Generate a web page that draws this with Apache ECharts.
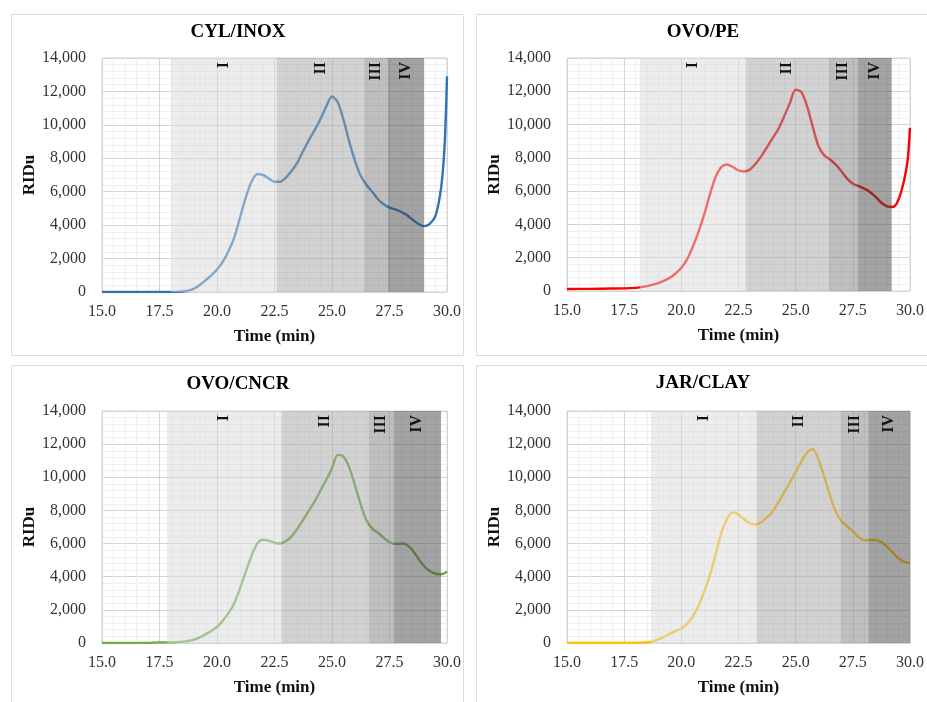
<!DOCTYPE html>
<html>
<head>
<meta charset="utf-8">
<script src="https://cdn.jsdelivr.net/npm/echarts@6/dist/echarts.min.js"></script>
<style>html,body{margin:0;padding:0;background:#fff;}#c{width:927px;height:702px;}</style>
</head>
<body>
<div id="c"></div>
<script>
// ---- data ----
const titles = ['CYL/INOX', 'OVO/PE', 'OVO/CNCR', 'JAR/CLAY'];
const xTicks = [15, 30, 2.5];          // min, max, step
const yTicks = [0, 14000, 2000];       // min, max, step
const regionLabels = ['I', 'II', 'III', 'IV'];

// sampling times (min), shared by all four traces
const timeMin = [15, 16, 17, 17.5, 18, 18.25, 18.5, 18.75, 19, 19.25, 19.5, 19.75, 20, 20.25, 20.5, 20.75,
  21, 21.25, 21.5, 21.75, 22, 22.25, 22.5, 22.75, 23, 23.25, 23.5, 23.75, 24, 24.25, 24.5, 24.75,
  25, 25.25, 25.5, 25.75, 26, 26.25, 26.5, 26.75, 27, 27.25, 27.5, 27.75, 28, 28.25, 28.5, 28.75,
  29, 29.25, 29.5, 29.75, 29.9, 30];

const valCyl = [0, 0, 0, 0, 0, 5, 30, 80, 200, 420, 700, 1000, 1350, 1800, 2450, 3250,
  4450, 5650, 6600, 7050, 7000, 6800, 6600, 6600, 6850, 7250, 7750, 8450, 9100, 9700, 10350, 11100,
  11700, 11350, 10300, 9000, 7850, 6950, 6400, 6000, 5550, 5250, 5050, 4950, 4800, 4600, 4330, 4080,
  3940, 4080, 4550, 6300, 8900, 12900];

const valPe = [120, 130, 150, 160, 190, 230, 290, 380, 480, 620, 800, 1050, 1400, 1900, 2650, 3550,
  4600, 5800, 6850, 7450, 7600, 7450, 7250, 7180, 7300, 7650, 8100, 8650, 9200, 9750, 10500, 11300,
  12100, 11950, 11100, 9850, 8700, 8150, 7900, 7600, 7200, 6750, 6450, 6300, 6150, 5950, 5650, 5300,
  5080, 5050, 5500, 6700, 7900, 9800];

const valCncr = [0, 0, 10, 40, 40, 50, 80, 120, 200, 340, 520, 730, 970, 1350, 1800, 2400,
  3300, 4300, 5250, 6000, 6230, 6180, 6050, 6000, 6150, 6450, 6900, 7450, 8000, 8550, 9200, 9850,
  10550, 11350, 11250, 10600, 9500, 8350, 7400, 6900, 6650, 6350, 6080, 5980, 6000, 5930, 5600, 5100,
  4650, 4350, 4180, 4150, 4220, 4320];

const valClay = [0, 0, 0, 5, 10, 20, 45, 100, 220, 380, 560, 720, 880, 1150, 1600, 2250,
  3100, 4100, 5350, 6650, 7500, 7880, 7750, 7450, 7220, 7150, 7300, 7600, 7950, 8500, 9100, 9700,
  10300, 10950, 11500, 11700, 11050, 10050, 8900, 7950, 7350, 7050, 6750, 6400, 6200, 6220, 6210, 6100,
  5800, 5450, 5100, 4900, 4830, 4800];

// region boundaries (min) for I, II, III, IV
const bndCyl  = [18.0, 22.6, 26.4, 27.43, 29.0];
const bndPe   = [18.19, 22.81, 26.44, 27.72, 29.2];
const bndCncr = [17.83, 22.8, 26.59, 27.68, 29.74];
const bndClay = [18.68, 23.29, 26.97, 28.18, 30.0];

const vals = [valCyl, valPe, valCncr, valClay];
const bnds = [bndCyl, bndPe, bndCncr, bndClay];

// ---- styles ----
const colors = ['#2E75B6', '#FF0000', '#70AD47', '#FFC000'];
const shadeFill = ['rgba(217,217,217,0.5)', 'rgba(166,166,166,0.5)', 'rgba(127,127,127,0.5)', 'rgba(72,72,72,0.5)'];
const FF = '"Liberation Serif", "Times New Roman", serif';
const grids = [
  {left: 102, top: 58, width: 345, height: 234},
  {left: 567, top: 58, width: 344, height: 233},
  {left: 102, top: 411, width: 345, height: 232},
  {left: 567, top: 411, width: 344, height: 232}
];
const titlePos = [[238, 32], [703, 32], [238, 384], [703, 383]];

const option = {
  animation: false,
  backgroundColor: '#fff',
  graphic: [
    {type: 'rect', shape: {x: 11.5, y: 14.5, width: 452, height: 341}, style: {fill: 'none', stroke: '#dcdcdc', lineWidth: 1}, z: -10},
    {type: 'rect', shape: {x: 476.5, y: 14.5, width: 470, height: 341}, style: {fill: 'none', stroke: '#dcdcdc', lineWidth: 1}, z: -10},
    {type: 'rect', shape: {x: 11.5, y: 365.5, width: 452, height: 360}, style: {fill: 'none', stroke: '#dcdcdc', lineWidth: 1}, z: -10},
    {type: 'rect', shape: {x: 476.5, y: 365.5, width: 470, height: 360}, style: {fill: 'none', stroke: '#dcdcdc', lineWidth: 1}, z: -10}
  ].concat(titles.map((t, i) => ({
    type: 'text', x: titlePos[i][0], y: titlePos[i][1], z: 10,
    style: {text: t, font: 'bold 19px ' + FF, fill: '#000', align: 'center', verticalAlign: 'middle', textAlign: 'center', textVerticalAlign: 'middle'}
  }))),
  grid: grids.map(g => Object.assign({show: true, borderColor: '#d6d6d6', borderWidth: 1, backgroundColor: 'transparent'}, g)),
  xAxis: grids.map((g, i) => ({
    type: 'value', gridIndex: i, min: xTicks[0], max: xTicks[1], interval: xTicks[2],
    name: 'Time (min)', nameLocation: 'middle', nameGap: 36,
    nameTextStyle: {fontFamily: FF, fontWeight: 'bold', fontSize: 17, color: '#111'},
    axisLine: {show: false}, axisTick: {show: false},
    axisLabel: {fontFamily: FF, fontSize: 16, color: '#333', margin: 12, formatter: v => v.toFixed(1)},
    splitLine: {show: true, lineStyle: {color: '#d4d4d4', width: 1}},
    minorTick: {show: false, splitNumber: 5},
    minorSplitLine: {show: true, lineStyle: {color: '#efefef', width: 1}}
  })),
  yAxis: grids.map((g, i) => ({
    type: 'value', gridIndex: i, min: yTicks[0], max: yTicks[1], interval: yTicks[2],
    name: 'RIDu', nameLocation: 'middle', nameGap: 64, nameRotate: 90,
    nameTextStyle: {fontFamily: FF, fontWeight: 'bold', fontSize: 17, color: '#111'},
    axisLine: {show: false}, axisTick: {show: false},
    axisLabel: {fontFamily: FF, fontSize: 16, color: '#333', margin: 16, formatter: v => v.toLocaleString('en-US')},
    splitLine: {show: true, lineStyle: {color: '#d4d4d4', width: 1}},
    minorTick: {show: false, splitNumber: 5},
    minorSplitLine: {show: true, lineStyle: {color: '#efefef', width: 1}}
  })),
  series: []
};

for (let i = 0; i < 4; i++) {
  option.series.push({
    type: 'line', xAxisIndex: i, yAxisIndex: i, z: 2,
    data: timeMin.map((t, k) => [t, vals[i][k]]),
    showSymbol: false, smooth: 0.3, clip: true,
    lineStyle: {color: colors[i], width: 2.4},
    itemStyle: {color: colors[i]}
  });
  const b = bnds[i];
  option.series.push({
    type: 'custom', xAxisIndex: i, yAxisIndex: i, z: 3, silent: true,
    encode: {x: [0, 1]},
    data: regionLabels.map((l, k) => [b[k], b[k + 1], k]),
    renderItem: function (params, api) {
      const s = api.value(0), e = api.value(1), k = api.value(2);
      const p0 = api.coord([s, yTicks[1]]);
      const p1 = api.coord([e, yTicks[0]]);
      return {
        type: 'group',
        children: [
          {type: 'rect', shape: {x: p0[0], y: p0[1], width: p1[0] - p0[0], height: p1[1] - p0[1]},
           style: {fill: shadeFill[k]}},
          {type: 'text', x: (p0[0] + p1[0]) / 2, y: p0[1] + 4, rotation: Math.PI / 2,
           style: {text: regionLabels[k], font: 'bold 16px ' + FF, fill: '#111',
                   align: 'right', verticalAlign: 'middle', textAlign: 'right', textVerticalAlign: 'middle'}}
        ]
      };
    }
  });
}

const chart = echarts.init(document.getElementById('c'), null, {renderer: 'canvas'});
chart.setOption(option);
</script>
</body>
</html>
